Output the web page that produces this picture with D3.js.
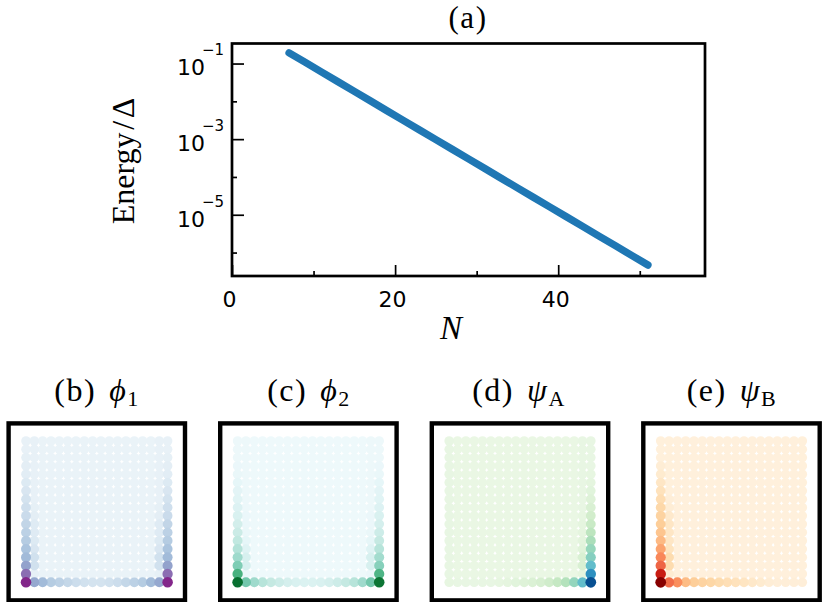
<!DOCTYPE html>
<html><head><meta charset="utf-8">
<script src="https://cdn.jsdelivr.net/npm/d3@7/dist/d3.min.js"></script>
<style>html,body{margin:0;padding:0;background:#fff}svg{display:block}
.tick text{font-family:"DejaVu Sans"}</style></head>
<body><svg id="c" width="830" height="602"></svg>
<script>
// ---- panel (a) data
const sizesN = [7,9,11,13,15,17,19,21,23,25,27,29,31,33,35,37,39,41,43,45,47,49,51];
const energy = [1.92e-1,1.07e-1,5.93e-2,3.30e-2,1.83e-2,1.02e-2,5.65e-3,3.14e-3,1.75e-3,9.7e-4,5.39e-4,3.0e-4,1.67e-4,9.27e-5,5.15e-5,2.86e-5,1.59e-5,8.83e-6,4.91e-6,2.73e-6,1.52e-6,8.43e-7,4.68e-7];
const xMajor = [0,20,40], xMinor = [10,30,50];
const yMajor = [1e-1,1e-3,1e-5], yMinor = [1e-2,1e-4,1e-6];
const yExponents = ["\u22121","\u22123","\u22125"];

// ---- lattice panels: colour level along the edges (index 0 = corner / bottom row)
const phi1Left   = [.82,.62,.46,.37,.33,.29,.26,.24,.21,.19,.17,.15,.13,.11,.10,.09,.08,.08];
const phi1Right  = [.82,.62,.46,.37,.33,.29,.26,.24,.21,.19,.17,.15,.13,.11,.10,.09,.08,.08];
const phi1Bottom = [.82,.44,.37,.29,.26,.23,.20,.18,.17,.17,.18,.20,.23,.26,.29,.37,.44,.82];
const phi1Inner  = [.08,.09,.18,.18,.15,.13,.12,.12,.10,.09,.08,.08,.08,.08,.08,.08,.08,.08];
const phi1Background = .07;

const phi2Left   = [.86,.60,.44,.36,.31,.27,.24,.21,.18,.16,.14,.13,.11,.09,.08,.07,.07,.07];
const phi2Right  = [.84,.58,.42,.35,.30,.26,.23,.20,.18,.16,.14,.13,.11,.09,.08,.07,.07,.07];
const phi2Bottom = [.86,.47,.36,.30,.26,.23,.20,.18,.17,.17,.18,.20,.23,.26,.30,.36,.47,.84];
const phi2Inner  = [.07,.08,.19,.19,.15,.11,.09,.08,.08,.07,.07,.07,.07,.07,.07,.07,.07,.07];
const phi2Background = .06;

const psiALeft   = [.09,.08,.08,.08,.08,.08,.08,.08,.08,.08,.08,.08,.08,.08,.08,.08,.08,.08];
const psiARight  = [.95,.74,.57,.47,.42,.36,.30,.25,.21,.17,.14,.12,.10,.09,.08,.08,.08,.08];
const psiABottom = [.09,.08,.08,.08,.08,.08,.09,.10,.12,.14,.16,.18,.22,.27,.33,.43,.57,.95];
const psiAInner  = [.08,.10,.17,.17,.13,.11,.10,.10,.09,.08,.08,.08,.08,.08,.08,.08,.08,.08];
const psiABackground = .07;

const psiBLeft   = [.98,.80,.62,.52,.44,.37,.32,.28,.25,.22,.19,.16,.13,.10,.08,.06,.06,.06];
const psiBRight  = [.07,.06,.06,.06,.06,.06,.06,.06,.06,.06,.06,.06,.06,.06,.06,.06,.06,.06];
const psiBBottom = [.98,.60,.50,.36,.28,.25,.23,.20,.18,.16,.14,.12,.10,.08,.07,.07,.07,.07];
const psiBInner  = [.07,.09,.20,.20,.15,.13,.13,.13,.11,.08,.07,.06,.06,.06,.06,.06,.06,.06];
const psiBBackground = .055;

const svg = d3.select("#c");
const serif = '"Liberation Serif","DejaVu Serif",serif';

// ---- panel (a)
const L=232,R=705,T=43.5,B=276;
const x = d3.scaleLinear().domain([0,58]).range([L,R]);
const y = d3.scaleLog().domain([Math.pow(10,-0.47),Math.pow(10,-6.62)]).range([T,B]);
const a = svg.append("g");

const line = d3.line().x((d,i)=>x(sizesN[i])).y(d=>y(d));
a.append("path").datum(energy).attr("d",line).attr("fill","none")
 .attr("stroke","#1f77b4").attr("stroke-width",7.4).attr("stroke-linecap","round").attr("stroke-linejoin","round");

function styleTicks(g){ g.select(".domain").remove(); g.selectAll("line").attr("stroke","#000").attr("stroke-width",1.7); }
a.append("g").attr("transform",`translate(0,${B})`)
 .call(d3.axisBottom(x).tickValues(xMinor).tickSizeInner(-5).tickFormat("")).call(styleTicks);
a.append("g").attr("transform",`translate(0,${B})`)
 .call(d3.axisBottom(x).tickValues(xMajor).tickSizeInner(-11).tickPadding(0).tickFormat(d3.format("d")))
 .call(styleTicks)
 .call(g=>g.selectAll("text").attr("font-size",22).attr("fill","#000").attr("x",-3).attr("y",30.5).attr("dy",0));
a.append("g").attr("transform",`translate(${L},0)`)
 .call(d3.axisLeft(y).tickValues(yMinor).tickSizeInner(-5).tickFormat("")).call(styleTicks);
a.append("g").attr("transform",`translate(${L},0)`)
 .call(d3.axisLeft(y).tickValues(yMajor).tickSizeInner(-12).tickFormat(""))
 .call(styleTicks)
 .call(g=>g.selectAll(".tick text").each(function(d,i){
   const t=d3.select(this).attr("x",0).attr("y",0).attr("dy",null).attr("text-anchor","end").attr("fill","#000").attr("font-size",22);
   t.append("tspan").attr("x",-27).attr("dy",11.3).text("10");
   t.append("tspan").attr("x",-8).attr("dy",-20).attr("font-size",15).text(yExponents[i]);
 }));
a.append("rect").attr("x",L).attr("y",T).attr("width",R-L).attr("height",B-T)
 .attr("fill","none").attr("stroke","#000").attr("stroke-width",2.7);

a.append("text").attr("x",468).attr("y",28).attr("text-anchor","middle")
 .attr("font-family",serif).attr("font-size",31).attr("letter-spacing",1.5).text("(a)");
a.append("text").attr("x",451).attr("y",339).attr("text-anchor","middle")
 .attr("font-family",serif).attr("font-style","italic").attr("font-size",33).text("N");
a.append("text").attr("transform","translate(134,161) rotate(-90)").attr("text-anchor","middle")
 .attr("font-family",serif).attr("font-size",32).text("Energy\u200a/\u200a\u0394");

// ---- lattice panels
const panels = [
 {label:"(b)",sym:"\u03d5",sub:"1",left:phi1Left,right:phi1Right,bottom:phi1Bottom,inner:phi1Inner,bg:phi1Background,scheme:d3.interpolateBuPu,x0:26,cx:97},
 {label:"(c)",sym:"\u03d5",sub:"2",left:phi2Left,right:phi2Right,bottom:phi2Bottom,inner:phi2Inner,bg:phi2Background,scheme:d3.interpolateBuGn,x0:237.6,cx:309},
 {label:"(d)",sym:"\u03c8",sub:"A",left:psiALeft,right:psiARight,bottom:psiABottom,inner:psiAInner,bg:psiABackground,scheme:d3.interpolateGnBu,x0:449.2,cx:519},
 {label:"(e)",sym:"\u03c8",sub:"B",left:psiBLeft,right:psiBRight,bottom:psiBBottom,inner:psiBInner,bg:psiBBackground,scheme:d3.interpolateOrRd,x0:660.7,cx:732}
];
const idx = d3.range(18);
const yy = d3.scaleLinear().domain([0,17]).range([582.3,441]);
const rad = d3.scaleLinear().domain([0,1]).range([4.75,5.4]);

panels.forEach(p=>{
  const xx = d3.scaleLinear().domain([0,17]).range([p.x0,p.x0+141.6]);
  const cells=[];
  idx.forEach(r=>idx.forEach(c=>{
    let t=p.bg;
    if(r===0) t=p.bottom[c];
    else if(c===0) t=p.left[r];
    else if(c===17) t=p.right[r];
    else if(c===1 && p.left[1]>.2) t=p.inner[r];
    else if(c===16 && p.right[1]>.2) t=p.inner[r];
    cells.push({r,c,t});
  }));
  cells.sort((a,b)=>a.t-b.t);
  const g=svg.append("g");
  g.selectAll("circle").data(cells).join("circle")
   .attr("cx",d=>xx(d.c)).attr("cy",d=>yy(d.r)).attr("r",d=>rad(d.t)).attr("fill",d=>p.scheme(d.t));
  g.append("rect").attr("x",p.x0-17.4).attr("y",423.4).attr("width",176.4).attr("height",177)
   .attr("fill","none").attr("stroke","#000").attr("stroke-width",4.4);
  const t=g.append("text").attr("x",p.cx).attr("y",401).attr("text-anchor","middle")
   .attr("font-family",serif).attr("font-size",32).attr("letter-spacing",1.5);
  t.append("tspan").text(p.label);
  t.append("tspan").attr("dx",13).attr("font-style","italic").text(p.sym);
  t.append("tspan").attr("font-size",22).attr("dy",5).text(p.sub);
});
</script></body></html>
